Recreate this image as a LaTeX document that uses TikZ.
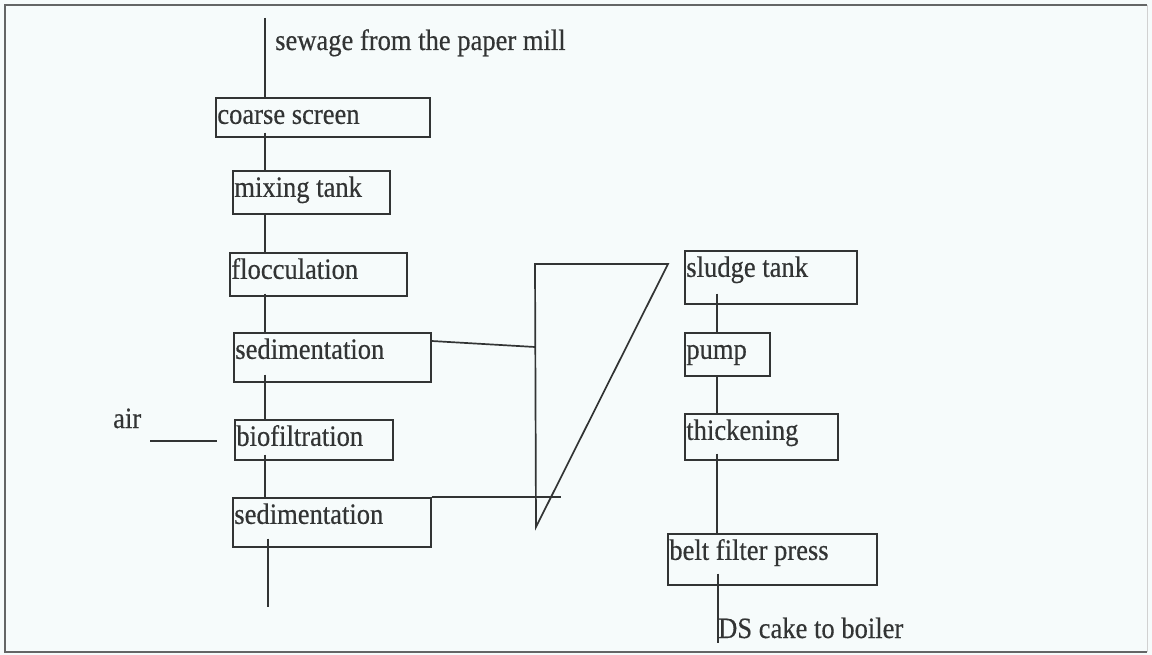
\documentclass[tikz,border=0pt]{standalone}
\usepackage{fontspec}
\setmainfont{Liberation Serif}[FakeStretch=0.9, FakeBold=0.4]
\usetikzlibrary{calc}
\definecolor{paper}{RGB}{246,251,251}
\definecolor{ink}{RGB}{50,52,52}
\definecolor{frame}{RGB}{100,102,102}
\begin{document}
\begin{tikzpicture}[x=1pt,y=-1pt,
  every node/.style={font=\fontsize{29.5}{34}\selectfont, text=ink},
  stage/.style={draw=ink, line width=1.7pt, inner xsep=1.5pt, inner ysep=0pt,
    anchor=north west, align=flush left, text height=26pt},
  flow/.style={draw=ink, line width=1.7pt},
  lbl/.style={anchor=base west, inner sep=0pt}]
% page and frame
\fill[paper] (0,0) rectangle (1152,655);
\useasboundingbox (0,0) rectangle (1152,655);
\draw[frame, line width=1.8pt] (1147,5) -- (5,5) -- (5,652) -- (1147,652);
\draw[frame!30, line width=1pt] (1147,5) -- (1147,652);

% main treatment line
\node[stage, text width=211pt, text depth=13pt] (cs)  at (215,97)  {coarse screen};
\node[stage, text width=154pt, text depth=17pt] (mix) at (232,170) {mixing tank};
\node[stage, text width=174pt, text depth=17pt] (flo) at (229,252) {flocculation};
\node[stage, text width=194pt, text depth=23pt] (s1)  at (233,332) {sedimentation};
\node[stage, text width=155pt, text depth=14pt] (bio) at (234,419) {biofiltration};
\node[stage, text width=195pt, text depth=23pt] (s2)  at (232,497) {sedimentation};

% sludge line
\node[stage, text width=169pt, text depth=27pt] (st)  at (684,250) {sludge tank};
\node[stage, text width=82pt,  text depth=17pt] (pu)  at (684,332) {pump};
\node[stage, text width=150pt, text depth=20pt] (th)  at (684,413) {thickening};
\node[stage, text width=206pt, text depth=25pt] (bf)  at (667,533) {belt filter press};

% free labels
\node[lbl] (sew) at (275,50)  {sewage from the paper mill};
\node[lbl] (air) at (113,428) {air};
\node[lbl] (ds)  at (718,638) {DS cake to boiler};

% reference coordinates
\coordinate (trunk) at (265,0);
\coordinate (strunk) at (717,0);
\coordinate (inlet) at (265,18);
\coordinate (outlet) at (268,607);
\coordinate (airend) at (217,441);
\coordinate (tA) at (535,264);
\coordinate (tB) at (668,264);
\coordinate (tC) at (536,527);
\coordinate (s2end) at (561,497);
\coordinate (cake) at (718,643);

% water flow
\draw[flow] (inlet) -- (cs.north -| inlet);
\draw[flow] ($(cs.south -| trunk)+(0,-5)$) -- (mix.north -| trunk);
\draw[flow] (mix.south -| trunk) -- (flo.north -| trunk);
\draw[flow] ($(flo.south -| trunk)+(0,-3)$) -- (s1.north -| trunk);
\draw[flow] ($(s1.south -| trunk)+(0,-8)$) -- (bio.north -| trunk);
\draw[flow] ($(bio.south -| trunk)+(0,-6)$) -- (s2.north -| trunk);
\draw[flow] ($(s2.south -| outlet)+(0,-9)$) -- (outlet);

% air supply
\draw[flow] ($(air.east |- airend)+(9,0)$) -- (airend);

% sludge collection
\draw[flow] (tA) -- (tB) -- (tC) -- cycle;
\draw[flow] ($(s1.north east)+(0,9)$) -- (tA |- 0,347);
\draw[flow] (s2.north east) -- (s2end);

% sludge treatment
\draw[flow] ($(st.south -| strunk)+(0,-11)$) -- (pu.north -| strunk);
\draw[flow] (pu.south -| strunk) -- (th.north -| strunk);
\draw[flow] ($(th.south -| strunk)+(0,-7)$) -- (bf.north -| strunk);
\draw[flow] ($(bf.south -| cake)+(0,-12)$) -- (cake);
\end{tikzpicture}
\end{document}
